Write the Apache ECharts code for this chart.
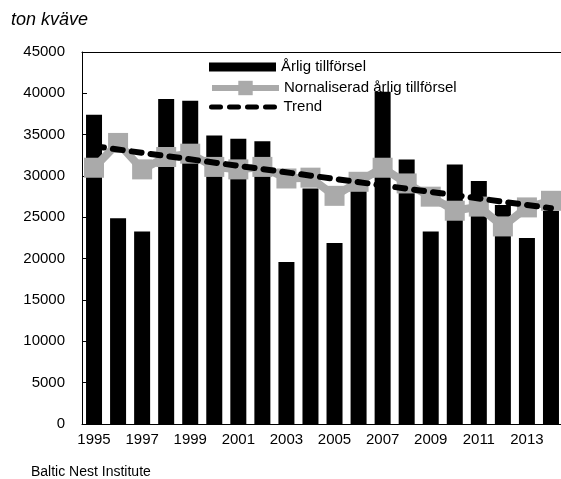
<!DOCTYPE html>
<html>
<head>
<meta charset="utf-8">
<script src="https://cdn.jsdelivr.net/npm/echarts@6/dist/echarts.min.js"></script>
<style>
  html, body { margin: 0; padding: 0; background: #fff; }
  #myChart { width: 561px; height: 479px; }
</style>
</head>
<body>
<div id="myChart"></div>
<script>
  // data
  const years = ['1995', '1996', '1997', '1998', '1999', '2000', '2001', '2002', '2003', '2004',
    '2005', '2006', '2007', '2008', '2009', '2010', '2011', '2012', '2013', '2014'];
  const annual = [37400, 24900, 23300, 39300, 39100, 34900, 34500, 34200, 19600, 28500,
    21900, 28200, 40200, 32000, 23300, 31400, 29400, 26500, 22500, 25800];
  const normalized = [31000, 34000, 30800, 32300, 32700, 31100, 30800, 31100, 29700, 29800,
    27600, 29300, 31000, 29100, 27500, 25800, 26300, 23900, 26200, 27000];
  // trend is a straight line: only the two ends are given
  const trendStart = 33600;
  const trendEnd = 26100;
  const trend = years.map((y, i) => i === 0 ? trendStart : (i === years.length - 1 ? trendEnd : null));

  const font = "'Liberation Sans', Arial, sans-serif";

  let myChart = echarts.init(document.getElementById('myChart'));
  myChart.setOption({
    animation: false,
    title: [{
      text: 'ton kväve',
      left: 11,
      top: 11,
      padding: 0,
      textStyle: { fontFamily: font, fontStyle: 'italic', fontWeight: 'normal', fontSize: 18, color: '#000' }
    }, {
      text: 'Baltic Nest Institute',
      left: 31,
      top: 465,
      padding: 0,
      textStyle: { fontFamily: font, fontWeight: 'normal', fontSize: 14, color: '#000' }
    }],
    grid: {
      left: 82,
      top: 52,
      right: -2,
      bottom: 55,
      outerBoundsMode: 'none'
    },
    legend: [{
      data: ['Årlig tillförsel'],
      left: 209, top: 57, padding: 0,
      itemWidth: 67, itemHeight: 9, itemGap: 0,
      icon: 'rect',
      textStyle: { fontFamily: font, fontSize: 15, lineHeight: 20, color: '#000' }
    }, {
      data: [{ name: 'Nornaliserad årlig tillförsel', lineStyle: { width: 6, color: '#aaaaaa' } }],
      left: 209, top: 78, padding: 0,
      itemWidth: 67, itemHeight: 18, itemGap: 0,
      textStyle: { fontFamily: font, fontSize: 15, lineHeight: 20, color: '#000' }
    }, {
      data: [{ name: 'Trend', itemStyle: { opacity: 0 }, lineStyle: { width: 5, color: '#000', type: [9, 9], cap: 'round' } }],
      left: 209, top: 97, padding: 0,
      itemWidth: 67, itemHeight: 10, itemGap: 0,
      textStyle: { fontFamily: font, fontSize: 15, lineHeight: 20, color: '#000' }
    }],
    xAxis: [{
      type: 'category',
      data: years,
      axisLine: { lineStyle: { color: '#000', width: 1 } },
      axisTick: { inside: true, length: 5, interval: 0, lineStyle: { color: '#000' } },
      axisLabel: { interval: 1, margin: 8, fontFamily: font, fontSize: 15, color: '#000' },
      splitLine: { show: false }
    }, {
      // top frame line only
      type: 'category',
      data: years,
      position: 'top',
      axisLine: { show: true, lineStyle: { color: '#000', width: 1 } },
      axisTick: { show: false },
      axisLabel: { show: false },
      splitLine: { show: false }
    }],
    yAxis: {
      type: 'value',
      min: 0,
      max: 45000,
      interval: 5000,
      axisLine: { show: true, lineStyle: { color: '#000', width: 1 } },
      axisTick: { show: true, inside: true, length: 5, lineStyle: { color: '#000' } },
      axisLabel: { margin: 17, fontFamily: font, fontSize: 15, color: '#000', formatter: v => String(v) },
      splitLine: { show: false }
    },
    series: [{
      name: 'Årlig tillförsel',
      type: 'bar',
      data: annual,
      barWidth: 16,
      itemStyle: { color: '#000' }
    }, {
      name: 'Nornaliserad årlig tillförsel',
      type: 'line',
      data: normalized,
      symbol: 'rect',
      symbolSize: 20,
      showAllSymbol: true,
      itemStyle: { color: '#aaaaaa' },
      lineStyle: { color: '#aaaaaa', width: 8 }
    }, {
      name: 'Trend',
      type: 'line',
      z: 5,
      data: trend,
      connectNulls: true,
      showSymbol: false,
      symbol: 'none',
      itemStyle: { color: '#000' },
      lineStyle: { color: '#000', width: 6, type: [10, 9], cap: 'round' }
    }]
  });
</script>
</body>
</html>
